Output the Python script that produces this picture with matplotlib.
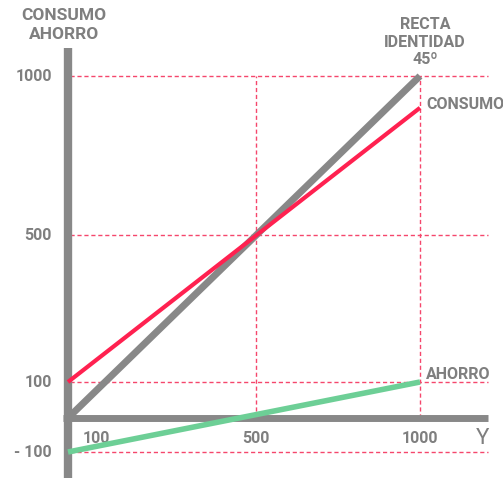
import matplotlib.pyplot as plt
import numpy as np

# datos (modelo keynesiano)
renta = [0, 1000]
consumo = [100, 900]
ahorro = [-100, 100]
identidad = [0, 1000]

yticks = [1000, 500, 100, -100]
ytick_labels = ['1000', '500', '100', '- 100']
xticks = [100, 500, 1000]
xtick_labels = ['100', '500', '1000']

gris = '#888888'
texto = '#7f7f7f'
rojo = '#ff2150'
verde = '#6dcf96'
rosa = '#f5476c'

plt.rcParams['font.family'] = ['Roboto', 'DejaVu Sans']

# escala por tramos (el dibujo original no esta a escala)
W, H = 503, 478
xd = np.array([0, 500, 1000])
xp = np.array([68, 256, 420])
yd = np.array([-100, 0, 100, 500, 1000])
yp = H - np.array([452, 418, 382, 235, 76])


def tramos(d, p):
    sl = (p[1] - p[0]) / (d[1] - d[0])
    sr = (p[-1] - p[-2]) / (d[-1] - d[-2])
    d2 = np.concatenate([[d[0] - 1e5], d, [d[-1] + 1e5]])
    p2 = np.concatenate([[p[0] - 1e5 * sl], p, [p[-1] + 1e5 * sr]])
    fwd = lambda v: np.interp(v, d2, p2)
    inv = lambda v: np.interp(v, p2, d2)
    return fwd, inv


fx, ix = tramos(xd, xp)
fy, iy = tramos(yd, yp)

fig = plt.figure(figsize=(W / 100, H / 100), dpi=100)
ax = fig.add_axes([0, 0, 1, 1])
ax.set_xscale('function', functions=(fx, ix))
ax.set_yscale('function', functions=(fy, iy))
ax.set_xlim(ix(0), ix(W))
ax.set_ylim(iy(0), iy(H))
ax.set_axis_off()

# rejilla discontinua
for v in yticks:
    ax.axhline(v, xmin=70 / W, xmax=488 / W, color=rosa, lw=1, ls=(0, (3, 2)), zorder=1)
for v in [500, 1000]:
    ax.vlines(v, 0, 1000, color=rosa, lw=1, ls=(0, (3, 2)), zorder=1)

# ejes
ax.axvline(0, ymin=0, ymax=(H - 48) / H, color=gris, lw=6, zorder=2, solid_capstyle='butt')
ax.axhline(0, xmin=63 / W, xmax=488 / W, color=gris, lw=5, zorder=2, solid_capstyle='butt')

# rectas
ax.plot(renta, identidad, color=gris, lw=5, zorder=3, solid_capstyle='butt')
ax.plot(renta, consumo, color=rojo, lw=3, zorder=4, solid_capstyle='butt')
ax.plot(renta, ahorro, color=verde, lw=4, zorder=5, solid_capstyle='butt')

# etiquetas
kw = dict(color=texto, fontweight='bold', fontsize=11.5)
for v, s in zip(yticks, ytick_labels):
    ax.text(ix(52), v, s, ha='right', va='center', **kw)
xpos = [ix(96), 500, 1000]
for xv, s in zip(xpos, xtick_labels):
    ax.text(xv, iy(H - 438), s, ha='center', va='center', **kw)

ax.text(ix(64), iy(H - 25), 'CONSUMO\nAHORRO', ha='center', va='center',
        linespacing=1.3, color=texto, fontweight='bold', fontsize=12.5)
ax.text(ix(425), iy(H - 42), 'RECTA\nIDENTIDAD\n45º', ha='center', va='center',
        linespacing=1.2, **kw)
ax.text(ix(426), consumo[1] + 10, 'CONSUMO', ha='left', va='center', **kw)
ax.text(ix(426), iy(H - 374), 'AHORRO', ha='left', va='center', **kw)
ax.text(ix(483), iy(H - 438), 'Y', ha='center', va='center', color=texto, fontsize=16)

fig.savefig('out.png', dpi=100)
